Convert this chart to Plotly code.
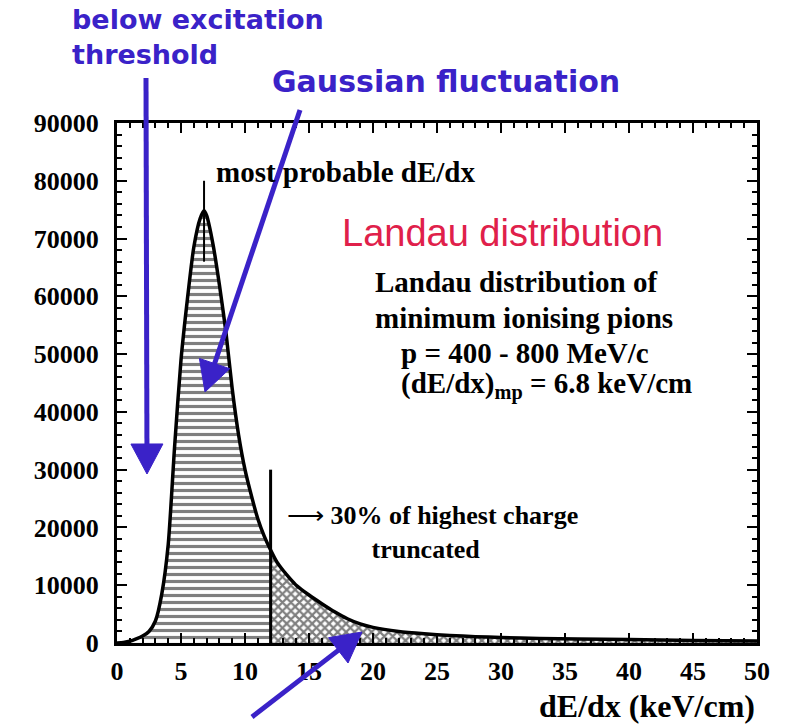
import math
import plotly.graph_objects as go

# Energy-loss spectrum of minimum ionising pions (dE/dx in keV/cm vs. counts)
de_dx = [0, 0.5, 1, 1.5, 2, 2.5, 3, 3.5, 4, 4.5, 5, 5.5, 6, 6.5, 6.8, 7, 7.5,
         8, 8.5, 9, 9.5, 10, 10.5, 11, 11.5, 12, 12.5, 13, 13.5, 14, 15, 16,
         17, 18, 19, 20, 22, 24, 26, 28, 30, 33, 36, 40, 45, 50]
counts = [0, 100, 300, 700, 1200, 2000, 3800, 8500, 17000, 34000, 49000, 59500,
          68500, 73500, 74800, 74000, 69000, 62000, 54000, 44000, 36000, 30000,
          25500, 21500, 18500, 16100, 14000, 12500, 11200, 10000, 8300, 6800,
          5400, 4200, 3300, 2700, 2000, 1600, 1300, 1100, 950, 800, 700, 600,
          450, 350]

most_probable = 6.8        # keV/cm
mp_marker_top = 80000
truncation_cut = 12        # keV/cm, start of the truncated 30 %
truncation_marker_top = 30000

x_ticks = [0, 5, 10, 15, 20, 25, 30, 35, 40, 45, 50]
y_ticks = [0, 10000, 20000, 30000, 40000, 50000, 60000, 70000, 80000, 90000]

# plot-area geometry in pixels (used to place decorations outside the axes)
FIG_W, FIG_H = 785, 724
L, R, T, B = 117, 28, 123, 81
PW, PH = FIG_W - L - R, FIG_H - T - B

BLUE = "#3a22c8"
SERIF = "Liberation Serif"
SANS = "Liberation Sans"
WIDE_SANS = "DejaVu Sans"


def px(x, y):
    """pixel position -> paper coordinates"""
    return (x - L) / PW, (T + PH - y) / PH


cut = de_dx.index(truncation_cut)

fig = go.Figure()

# kept part of the spectrum: horizontal hatching
fig.add_trace(go.Scatter(
    x=de_dx[:cut + 1], y=counts[:cut + 1], mode="lines",
    line=dict(color="black", width=0, shape="spline", smoothing=0.6),
    fill="tozeroy", fillcolor="rgba(0,0,0,0)",
    fillpattern=dict(shape="-", size=7, solidity=0.45,
                     fgcolor="black", bgcolor="white"),
    hoverinfo="skip", showlegend=False))

# truncated high-charge tail: cross hatching
fig.add_trace(go.Scatter(
    x=de_dx[cut:], y=counts[cut:], mode="lines",
    line=dict(color="black", width=0, shape="spline", smoothing=0.6),
    fill="tozeroy", fillcolor="rgba(0,0,0,0)",
    fillpattern=dict(shape="x", size=6, solidity=0.6,
                     fgcolor="black", bgcolor="white"),
    hoverinfo="skip", showlegend=False))

# outline of the distribution
fig.add_trace(go.Scatter(
    x=de_dx, y=counts, mode="lines",
    line=dict(color="black", width=3.5, shape="spline", smoothing=0.6),
    hoverinfo="skip", showlegend=False))

# most probable value marker
fig.add_trace(go.Scatter(
    x=[most_probable, most_probable], y=[66000, mp_marker_top], mode="lines",
    line=dict(color="black", width=2), hoverinfo="skip", showlegend=False))

# truncation marker
fig.add_trace(go.Scatter(
    x=[truncation_cut, truncation_cut], y=[0, truncation_marker_top],
    mode="lines", line=dict(color="black", width=3),
    hoverinfo="skip", showlegend=False))

axis_common = dict(
    showline=True, linecolor="black", linewidth=3, mirror="allticks",
    ticks="inside", ticklen=10, tickwidth=2, tickcolor="black",
    showgrid=False, zeroline=False,
    tickfont=dict(family=SERIF, size=26, color="black", weight="bold"),
)

fig.update_xaxes(
    range=[0, 50], tickvals=x_ticks, ticktext=[str(v) for v in x_ticks],
    minor=dict(ticks="inside", ticklen=5, tickwidth=2, dtick=1,
               tickcolor="black"),
    ticklabelstandoff=3, **axis_common)
fig.update_yaxes(
    range=[0, 90000], tickvals=y_ticks, ticktext=[str(v) for v in y_ticks],
    minor=dict(ticks="inside", ticklen=5, tickwidth=2, dtick=2000,
               tickcolor="black"),
    ticklabelstandoff=10, **axis_common)

annotations = []


def text(x, y, s, size, family=SERIF, color="black", bold=True,
         xanchor="left", ref="data"):
    if ref == "pixel":
        x, y = px(x, y)
        xr, yr = "paper", "paper"
    else:
        xr, yr = "x", "y"
    annotations.append(dict(
        x=x, y=y, xref=xr, yref=yr, text=s, showarrow=False,
        xanchor=xanchor, yanchor="middle", align="left",
        font=dict(family=family, size=size, color=color,
                  weight="bold" if bold else "normal")))


# labels inside the frame
text(7.6, 81500, "most probable dE/dx", 29)
text(17.4, 71000, "Landau distribution", 38, family=SANS,
     color="#e0204a", bold=False)
text(20, 62500, "Landau distribution of", 29)
text(20, 56300, "minimum ionising pions", 29)
text(22, 50200, "p = 400 - 800 MeV/c", 29)
text(22, 44600, "(dE/dx)<sub>mp</sub> = 6.8 keV/cm", 29)
text(13.1, 19200,
     "<span style='font-weight:normal'>\u27f6</span> 30% of highest charge<br>"
     + "&nbsp;" * 13 + "truncated", 26)

# axis title
text(757, 706, "dE/dx (keV/cm)", 32, xanchor="right", ref="pixel")

# blue callouts above the frame
text(70, 37, "below excitation<br>threshold", 27, family=WIDE_SANS,
     color=BLUE, ref="pixel")
text(270, 81, "Gaussian fluctuation", 30, family=WIDE_SANS, color=BLUE,
     ref="pixel")

shapes = []


def arrow(tail, tip, head_len=30, head_w=32, width=5):
    dx, dy = tip[0] - tail[0], tip[1] - tail[1]
    n = math.hypot(dx, dy)
    ux, uy = dx / n, dy / n
    bx, by = tip[0] - ux * head_len, tip[1] - uy * head_len
    x0, y0 = px(*tail)
    x1, y1 = px(bx + ux * 2, by + uy * 2)
    shapes.append(dict(type="line", xref="paper", yref="paper",
                       x0=x0, y0=y0, x1=x1, y1=y1,
                       line=dict(color=BLUE, width=width)))
    pts = [tip, (bx - uy * head_w / 2, by + ux * head_w / 2),
           (bx + uy * head_w / 2, by - ux * head_w / 2)]
    p = [px(*q) for q in pts]
    path = "M {} {} L {} {} L {} {} Z".format(
        p[0][0], p[0][1], p[1][0], p[1][1], p[2][0], p[2][1])
    shapes.append(dict(type="path", xref="paper", yref="paper", path=path,
                       fillcolor=BLUE, line=dict(color=BLUE, width=1)))


arrow((146, 78), (147, 474))
arrow((300, 110), (205, 392))
arrow((252, 717), (362, 632))

fig.update_layout(
    width=FIG_W, height=FIG_H,
    margin=dict(l=L, r=R, t=T, b=B),
    paper_bgcolor="white", plot_bgcolor="white",
    annotations=annotations, shapes=shapes,
)

fig.write_html("out.html")
